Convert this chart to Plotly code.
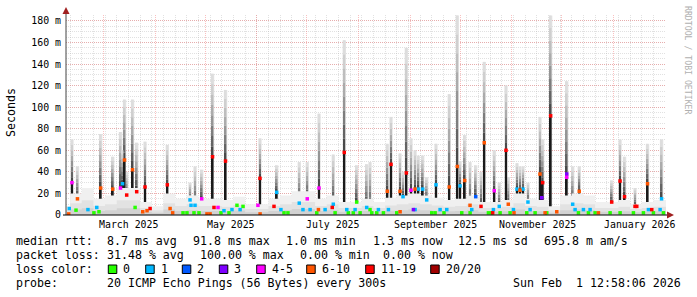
import plotly.graph_objects as go
import pandas as pd

START = "2025-02-06 12:58:06"
END = "2026-02-01 12:58:06"

# ---- spikes (smoke columns): date, median RTT (ms), top of smoke (ms), loss class
spike_date = [
    "2025-02-10 03:00", "2025-02-13 10:00", "2025-02-27 08:00", "2025-03-06 14:00", "2025-03-11 06:00",
    "2025-03-12 11:00", "2025-03-13 16:00", "2025-03-14 23:00", "2025-03-18 11:00", "2025-03-20 23:00",
    "2025-03-25 23:00",
    "2025-04-08 08:00", "2025-04-21 23:00", "2025-04-24 23:00", "2025-04-28 23:00",
    "2025-05-05 11:00", "2025-05-13 06:00",
    "2025-06-02 22:00", "2025-06-12 23:00", "2025-06-26 12:00",
    "2025-07-01 07:00", "2025-07-08 08:00", "2025-07-16 22:00", "2025-07-23 12:00", "2025-07-30 23:00",
    "2025-08-05 23:00", "2025-08-07 23:00", "2025-08-18 08:00", "2025-08-20 13:00", "2025-08-25 23:00",
    "2025-08-27 18:00", "2025-08-29 18:00",
    "2025-09-01 13:00", "2025-09-03 23:00", "2025-09-05 22:00", "2025-09-08 13:00", "2025-09-10 23:00",
    "2025-09-16 13:00", "2025-09-24 12:00", "2025-09-29 08:00", "2025-09-30 23:00",
    "2025-10-03 18:00", "2025-10-06 23:00", "2025-10-10 09:00", "2025-10-13 13:00", "2025-10-15 12:00",
    "2025-10-21 12:00", "2025-10-24 12:00", "2025-10-28 13:00", "2025-10-29 22:00",
    "2025-11-04 03:00", "2025-11-05 22:00", "2025-11-07 17:00", "2025-11-10 17:00", "2025-11-17 22:00",
    "2025-11-19 13:00", "2025-11-24 08:00",
    "2025-12-03 23:00", "2025-12-07 13:00", "2025-12-11 12:00", "2025-12-30 23:00",
    "2026-01-04 23:00", "2026-01-07 16:00", "2026-01-13 23:00", "2026-01-21 11:00", "2026-01-29 21:00",
]
spike_median = [30, 15, 25, 24, 25, 29, 51, 18.5, 42, 21.6, 26,
                28, 14, 9, 15,
                54, 50,
                34, 21, 11,
                15, 25, 10, 58, 12,
                7, 5, 22, 47, 22, 17, 39,
                23, 24, 24, 24, 14, 28, 26, 45, 27,
                32, 9, 17, 8, 67, 22.5, 8, 60, 10,
                24, 23, 24, 12, 38, 30, 92,
                35, 10, 22, 12,
                31.5, 17, 8, 29, 15]
spike_top = [70, 45, 75, 54, 77, 60, 107, 40, 107, 67, 68,
             65, 30, 45, 42,
             131, 116,
             71, 46, 49,
             49, 94, 56, 162, 46,
             47, 49, 66, 91, 57, 40, 155,
             71, 60, 55, 55, 35, 66, 112, 185, 50,
             74, 49, 46, 40, 142, 60, 30, 120, 35,
             48, 45, 45, 30, 91, 70, 185,
             124, 45, 45, 32,
             70, 54, 25, 66, 70]
spike_loss = [4, 5, 5, 5, 4, 1, 5, 6, 5, 6, 6,
              6, 1, 1, 4,
              6, 6,
              6, 1, 1,
              4, 4, 1, 6, 0,
              1, 0, 5, 6, 5, 1, 6,
              4, 5, 1, 1, 1, 1, 5, 5, 1,
              5, 5, 2, 6, 5, 4, 1, 6, 5,
              1, 5, 1, 1, 5, 6, 6,
              4, 1, 5, 6,
              6, 6, 6, 5, 1]

# ---- low median points (coloured by loss)
low_date = [
    "2025-02-08 04:00", "2025-02-08 12:00", "2025-02-12 13:00", "2025-02-19 17:00", "2025-02-23 07:00",
    "2025-02-25 00:00", "2025-02-26 08:00",
    "2025-03-20 00:00", "2025-03-24 14:00", "2025-03-27 04:00", "2025-03-29 00:00",
    "2025-04-10 00:00", "2025-04-11 13:00", "2025-04-17 18:00", "2025-04-20 03:00", "2025-04-22 13:00",
    "2025-04-24 08:00", "2025-04-27 08:00",
    "2025-05-02 03:00", "2025-05-04 00:00", "2025-05-06 08:00", "2025-05-08 18:00", "2025-05-10 13:00",
    "2025-05-12 08:00", "2025-05-15 08:00", "2025-05-17 03:00", "2025-05-20 03:00", "2025-05-22 00:00",
    "2025-05-23 18:00",
    "2025-06-01 17:00", "2025-06-03 00:00", "2025-06-11 08:00", "2025-06-15 12:00", "2025-06-17 08:00",
    "2025-06-19 17:00", "2025-06-28 17:00",
    "2025-07-03 00:00", "2025-07-07 00:00", "2025-07-08 00:00", "2025-07-12 00:00", "2025-07-16 07:00",
    "2025-07-18 00:00", "2025-07-25 00:00", "2025-07-25 22:00", "2025-07-28 22:00", "2025-07-30 00:00",
    "2025-08-02 00:00", "2025-08-09 00:00", "2025-08-12 00:00", "2025-08-13 00:00", "2025-08-16 00:00",
    "2025-08-19 00:00", "2025-08-24 00:00", "2025-08-26 00:00",
    "2025-09-03 00:00", "2025-09-04 00:00", "2025-09-14 00:00", "2025-09-16 00:00", "2025-09-19 00:00",
    "2025-09-21 08:00", "2025-09-23 00:00",
    "2025-10-02 00:00", "2025-10-07 00:00", "2025-10-08 00:00", "2025-10-18 00:00", "2025-10-20 00:00",
    "2025-10-20 13:00", "2025-10-21 00:00", "2025-10-25 00:00", "2025-10-31 00:00",
    "2025-11-02 00:00", "2025-11-02 08:00", "2025-11-10 00:00", "2025-11-12 00:00", "2025-11-15 00:00",
    "2025-11-19 00:00", "2025-11-21 00:00", "2025-11-22 00:00", "2025-11-28 00:00",
    "2025-12-04 00:00", "2025-12-09 00:00", "2025-12-11 00:00", "2025-12-14 00:00", "2025-12-17 00:00",
    "2025-12-18 00:00", "2025-12-21 00:00", "2025-12-23 00:00", "2025-12-30 00:00",
    "2026-01-05 00:00", "2026-01-13 00:00", "2026-01-15 00:00", "2026-01-19 00:00", "2026-01-22 00:00",
    "2026-01-24 00:00", "2026-01-25 00:00", "2026-01-29 00:00", "2026-01-31 00:00",
]
low_value = [1, 6, 4.5, 5, 2, 7, 3,
             7, 3, 4, 6,
             6, 2, 2, 2, 9, 2, 2,
             1, 1, 7, 7, 2, 4, 2, 5, 9, 5, 8,
             9, 1, 8, 5, 2, 2, 5,
             5, 2, 5, 5, 7, 2, 5, 2, 2, 5,
             2, 2, 2, 5, 2, 5, 2, 3,
             5, 5, 2, 2, 5, 2, 5,
             2, 2, 5, 2, 2, 2, 5, 2, 2,
             5, 2, 2, 5, 2, 16, 2, 2, 3,
             38, 5, 2, 5, 2, 5, 2, 2, 2,
             2, 2, 8, 2, 5, 5, 2, 5, 2]
low_loss = [5, 1, 0, 1, 0, 1, 0,
            0, 5, 5, 6,
            5, 5, 0, 0, 1, 0, 0,
            5, 5, 6, 4, 0, 1, 0, 1, 0, 1, 0,
            4, 5, 6, 1, 0, 0, 1,
            1, 0, 5, 1, 6, 0, 1, 0, 0, 1,
            0, 0, 0, 1, 0, 1, 0, 5,
            3, 1, 0, 0, 1, 0, 1,
            0, 0, 1, 0, 0, 6, 1, 0, 0,
            1, 5, 0, 1, 0, 3, 5, 0, 5,
            3, 1, 0, 1, 0, 1, 0, 5, 0,
            0, 0, 6, 0, 1, 6, 0, 1, 0]

# ---- background haze (light smoke near zero), first value before 2025-02-09, then weekly
haze_week_start = "2025-02-09"
haze_top = [8,
            20, 25, 15, 18, 25, 25, 12, 8, 20, 15,
            18, 15, 15, 14, 17, 10, 10, 15, 18, 22,
            22, 15, 18, 12, 12, 15, 12, 16, 18, 20,
            18, 16, 14, 15, 18, 12, 12, 14, 20, 15,
            14, 8, 18, 20, 18, 12, 12, 14, 10, 12,
            14]

loss_labels = ["0", "1", "2", "3", "4-5", "6-10", "11-19", "20/20"]
loss_colors = ["#26ff00", "#00b8ff", "#0059ff", "#7e00ff", "#ff00ff", "#ff5500", "#ff0000", "#a10000"]

y_tick_vals = [0, 20, 40, 60, 80, 100, 120, 140, 160, 180]
y_tick_text = ["0", "20 m", "40 m", "60 m", "80 m", "100 m", "120 m", "140 m", "160 m", "180 m"]
x_label_start = ["2025-03-01", "2025-05-01", "2025-07-01", "2025-09-01", "2025-11-01", "2026-01-01"]
x_label_text = ["March 2025", "May 2025", "July 2025", "September 2025", "November 2025", "January 2026"]

stats_rtt = ["median rtt:", "8.7 ms avg", "91.8 ms max", "1.0 ms min", "1.3 ms now", "12.5 ms sd", "695.8 m am/s"]
stats_loss = ["packet loss:", "31.48 % avg", "100.00 % max", "0.00 % min", "0.00 % now"]
probe_text = ["probe:", "20 ICMP Echo Pings (56 Bytes) every 300s"]
stamp_text = ["Sun Feb", "1 12:58:06 2026"]

# ---------------- layout helpers ----------------
W, H = 697, 297
L, R, T, B = 66, 666, 15, 215
MONO = "DejaVu Sans Mono"


def px(x):
    return (x - L) / (R - L)


def py(y):
    return (B - y) / (B - T)


DAY_MS = 86400000
PX_MS = 0.6 * DAY_MS
GRID = "rgba(175,175,175,0.38)"
MGRID = "rgba(240,90,90,0.38)"

fig = go.Figure()

# haze
hx = [pd.Timestamp(START)] + list(pd.date_range(haze_week_start, periods=len(haze_top) - 1, freq="7D")) + [pd.Timestamp(END)]
hy = haze_top + [haze_top[-1]]
for frac, col in [(1.0, "#f0f0f0"), (0.55, "#e2e2e2"), (0.25, "#d2d2d2")]:
    fig.add_trace(go.Scatter(x=hx, y=[v * frac for v in hy], mode="lines",
                             line=dict(width=0, shape="hv"), fill="tozeroy",
                             fillcolor=col, hoverinfo="skip"))

# smoke above median (wide light halo, then narrower gradient)
fig.add_trace(go.Bar(x=spike_date, y=[t - m for m, t in zip(spike_median, spike_top)], base=spike_median,
                     width=3.4 * PX_MS, marker=dict(color="#e4e4e4", line=dict(width=0)), hoverinfo="skip"))
shades = ["#4a4a4a", "#646464", "#7d7d7d", "#959595", "#ababab", "#bebebe", "#cfcfcf", "#dddddd"]
N = len(shades)
for i, col in enumerate(shades):
    base = [m + (t - m) * i / N for m, t in zip(spike_median, spike_top)]
    hgt = [(t - m) / N for m, t in zip(spike_median, spike_top)]
    fig.add_trace(go.Bar(x=spike_date, y=hgt, base=base, width=1.8 * PX_MS,
                         marker=dict(color=col, line=dict(width=0)), hoverinfo="skip"))
# smoke below median
fig.add_trace(go.Bar(x=spike_date, y=spike_median, base=0, width=2.8 * PX_MS,
                     marker=dict(color="#9a9a9a", line=dict(width=0)), hoverinfo="skip"))
fig.add_trace(go.Bar(x=spike_date, y=spike_median, base=0, width=1.6 * PX_MS,
                     marker=dict(color="#1a1a1a", line=dict(width=0)), hoverinfo="skip"))

# median points coloured by loss
for k, col in enumerate(loss_colors):
    xs = [d for d, l in zip(spike_date, spike_loss) if l == k] + [d for d, l in zip(low_date, low_loss) if l == k]
    ys = [v for v, l in zip(spike_median, spike_loss) if l == k] + [v for v, l in zip(low_value, low_loss) if l == k]
    if xs:
        fig.add_trace(go.Scatter(x=xs, y=ys, mode="markers",
                                 marker=dict(symbol="square", size=3.5, color=col, line=dict(width=0)),
                                 hoverinfo="skip"))

month_starts = list(pd.date_range("2025-03-01", "2026-02-01", freq="MS"))

shapes = []
# axes lines
shapes.append(dict(type="line", xref="paper", yref="paper", x0=px(66), x1=px(66), y0=py(215), y1=py(10),
                   line=dict(color="#444444", width=1), layer="above"))
shapes.append(dict(type="line", xref="paper", yref="paper", x0=px(63), x1=px(668), y0=py(215), y1=py(215),
                   line=dict(color="#000000", width=1), layer="above"))
# arrows
shapes.append(dict(type="path", xref="paper", yref="paper",
                   path=f"M {px(66)} {py(7)} L {px(62.5)} {py(14)} L {px(69.5)} {py(14)} Z",
                   fillcolor="#a02020", line=dict(width=0), layer="above"))
shapes.append(dict(type="path", xref="paper", yref="paper",
                   path=f"M {px(674)} {py(215)} L {px(667)} {py(211.5)} L {px(667)} {py(218.5)} Z",
                   fillcolor="#a02020", line=dict(width=0), layer="above"))

annotations = []


def txt(x, y, s, size=11.6, color="#000000", **kw):
    d = dict(x=px(x), y=py(y), xref="paper", yref="paper", text=s, showarrow=False,
             xanchor="left", yanchor="middle", borderpad=0, borderwidth=0,
             font=dict(family=MONO, size=size, color=color))
    d.update(kw)
    annotations.append(d)


# x month labels (centred over the month)
for s, t in zip(x_label_start, x_label_text):
    mid = pd.Timestamp(s) + pd.Timedelta(days=15.5)
    annotations.append(dict(x=mid, y=py(224), xref="x", yref="paper", text=t, showarrow=False,
                            xanchor="center", yanchor="middle", borderpad=0, borderwidth=0,
                            font=dict(family=MONO, size=9.9, color="#000000")))

# y title
txt(11, 113, "Seconds", size=11.6, xanchor="center", textangle=-90)
# watermark
txt(688, 60, "RRDTOOL / TOBI OETIKER", size=8.2, color="#b0b0b0", xanchor="center", textangle=90)

# legend lines
rtt_x = [16, 107.3, 193.3, 286, 372.7, 458.3, 544]
for s, x in zip(stats_rtt, rtt_x):
    txt(x, 240.5, s)
loss_x = [16, 107.3, 200, 300, 382.7]
for s, x in zip(stats_loss, loss_x):
    txt(x, 255, s)
txt(16, 269, "loss color:")
box_x = [108.3, 145.7, 182.3, 219.3, 256.7, 306.7, 365.7, 430.7]
for bx, lab, col in zip(box_x, loss_labels, loss_colors):
    shapes.append(dict(type="rect", xref="paper", yref="paper", x0=px(bx), x1=px(bx + 8.5),
                       y0=py(265), y1=py(273.5), fillcolor=col, line=dict(color="#000000", width=1)))
    txt(bx + 15, 269, lab)
txt(16, 283, probe_text[0])
txt(107.3, 283, probe_text[1])
txt(513.3, 283, stamp_text[0])
txt(576.3, 283, stamp_text[1])

fig.update_layout(
    width=W, height=H, autosize=False,
    margin=dict(l=L, r=W - R, t=T, b=H - B, pad=0),
    paper_bgcolor="#ffffff", plot_bgcolor="#ffffff",
    barmode="overlay", showlegend=False,
    shapes=shapes, annotations=annotations,
    xaxis=dict(type="date", range=[START, END], tickmode="array", tickvals=month_starts,
               showticklabels=False, ticks="", showgrid=True, gridcolor=MGRID, griddash="1px,1px",
               gridwidth=1, zeroline=False, showline=False,
               minor=dict(dtick=7 * DAY_MS, tick0="2025-02-09", showgrid=True, gridcolor=GRID,
                          griddash="1px,1px", gridwidth=1, ticks="")),
    yaxis=dict(range=[0, 185.5], tickmode="array", tickvals=y_tick_vals, ticktext=y_tick_text,
               ticks="", showgrid=True, gridcolor=MGRID, griddash="1px,1px", gridwidth=1,
               zeroline=False, showline=False, ticklabelstandoff=4,
               tickfont=dict(family=MONO, size=9.9, color="#000000"),
               minor=dict(dtick=5, showgrid=True, gridcolor=GRID, griddash="1px,1px", gridwidth=1, ticks="")),
)

fig.write_html("out.html")
